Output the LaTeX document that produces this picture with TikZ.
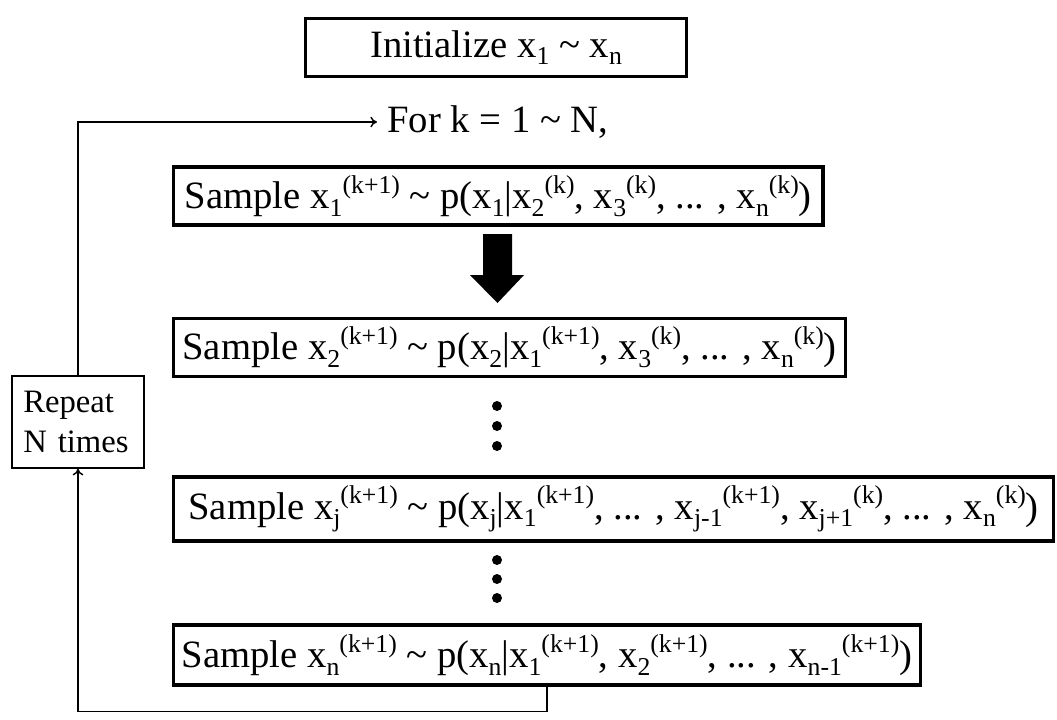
\documentclass[tikz,border=0pt]{standalone}
\usepackage{fontspec}
\setmainfont{Liberation Serif}
\usepackage{tikz}
\usetikzlibrary{arrows.meta,calc,positioning}

\newcommand{\lo}[1]{\raisebox{-0.2em}{\fontsize{19.3}{19}\selectfont #1}}
\newcommand{\hi}[1]{\raisebox{0.4em}{\fontsize{19.3}{19}\selectfont #1}}
\newcommand{\xsub}[1]{x\lo{#1}}
\newcommand{\xsup}[2]{x\lo{#1}\hi{(#2)}}
\newcommand{\tld}{\textasciitilde{}}

\begin{document}
\begin{tikzpicture}[
  x=0.75pt, y=-0.75pt,
  font=\fontsize{29}{34}\selectfont,
  samplebox/.style={draw, line width=2.4pt, anchor=west, inner xsep=4pt, inner ysep=2pt},
  loopbox/.style={draw, line width=1.1pt, align=left, text width=82pt, inner xsep=8pt,
    minimum width=99pt, minimum height=69pt, font=\fontsize{24.5}{30}\selectfont},
  arr/.style={-{To[length=5pt,width=8pt]}, line width=1.1pt},
  dot/.style={circle, fill, inner sep=0pt, minimum size=7.5pt}
]
\useasboundingbox (0,0) rectangle (1057,719);
\node[samplebox, anchor=center, minimum width=286pt, minimum height=44pt] (init) at (496,47.5) {Initialize \xsub{1} \tld\ \xsub{n}};
\node[anchor=west, inner xsep=7.5pt, inner ysep=0pt] (for) at (377,122) {For k = 1 \tld\ N,};
\node[samplebox, minimum width=487pt, minimum height=43.5pt] (s1) at (172,196) {Sample \xsup{1}{k+1} \tld\ p(\xsub{1}|\xsup{2}{k}, \xsup{3}{k}, ... , \xsup{n}{k})};
\node[samplebox, minimum width=504pt, minimum height=44pt] (s2) at (172,347.5) {Sample \xsup{2}{k+1} \tld\ p(\xsub{2}|\xsup{1}{k+1}, \xsup{3}{k}, ... , \xsup{n}{k})};
\node[samplebox, minimum width=660pt, minimum height=48pt] (sj) at (172,509) {Sample \xsup{j}{k+1} \tld\ p(\xsub{j}|\xsup{1}{k+1}, ... , \xsup{j-1}{k+1}, \xsup{j+1}{k}, ... , \xsup{n}{k})};
\node[samplebox, minimum width=560pt, minimum height=45pt] (sn) at (172,655) {Sample \xsup{n}{k+1} \tld\ p(\xsub{n}|\xsup{1}{k+1}, \xsup{2}{k+1}, ... , \xsup{n-1}{k+1})};
\node[loopbox] (repeat) at (78,422) {Repeat\\N times};

% big arrow between the first two steps
\fill (483,234) -- (512,234) -- (512,275) -- (524,275) -- (497.5,303) -- (470,275) -- (483,275) -- cycle;

% dots
\foreach \y in {406,426,446,560,579,598}
  \node[dot] at (497,\y) {};

% loop
\draw[arr] (repeat.north) |- (for.west);
\draw[arr] (sn.south) -- ++(0,25) -| (repeat.south);
\end{tikzpicture}
\end{document}
